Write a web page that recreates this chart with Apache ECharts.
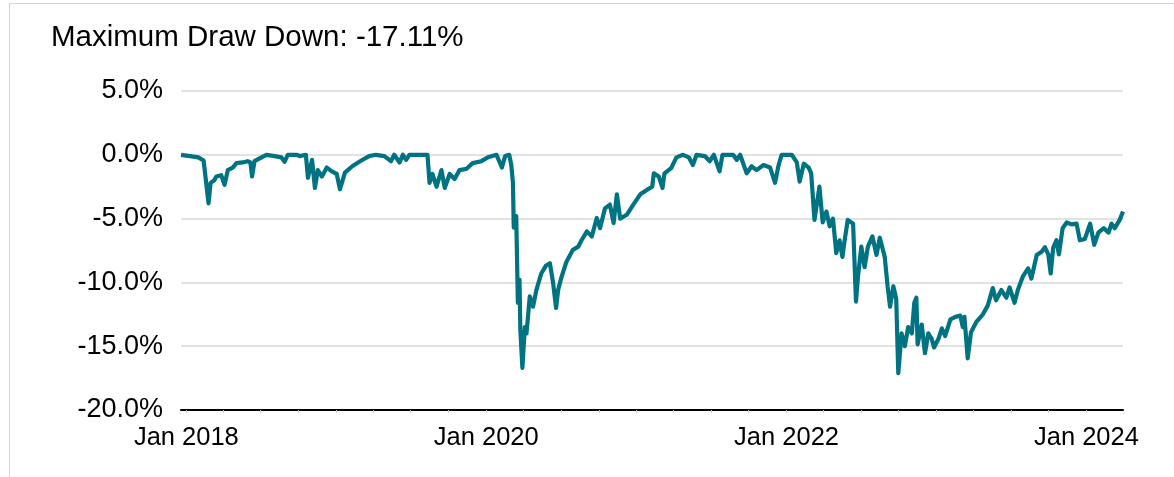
<!DOCTYPE html>
<html>
<head>
<meta charset="utf-8">
<script src="https://cdn.jsdelivr.net/npm/echarts@6/dist/echarts.min.js"></script>
<style>
  html, body { margin: 0; padding: 0; background: #fff; }
  #frame { position: absolute; left: 9px; top: 3px; width: 1300px; height: 600px; border: 1px solid #d4d4d4; }
  #main { position: absolute; left: 0; top: 0; width: 1174px; height: 477px; }
</style>
</head>
<body>
<div id="frame"></div>
<div id="main"></div>
<script>
var title = 'Maximum Draw Down: -17.11%';

// dates of the drawdown readings
var dates = [
  '2017-12-19','2018-01-10','2018-01-30','2018-02-12','2018-02-16','2018-02-24','2018-03-01','2018-03-10',
  '2018-03-15','2018-03-27','2018-04-04','2018-04-12','2018-04-24','2018-05-03','2018-05-18','2018-05-30',
  '2018-06-06','2018-06-10','2018-06-16','2018-07-03','2018-07-15','2018-08-04','2018-08-20','2018-08-28',
  '2018-09-05','2018-09-26','2018-10-04','2018-10-19','2018-10-24','2018-11-03','2018-11-10','2018-11-17',
  '2018-11-27','2018-12-09','2018-12-21','2019-01-02','2019-01-10','2019-01-22','2019-02-09','2019-02-23',
  '2019-03-03','2019-03-22','2019-04-07','2019-04-28','2019-05-14','2019-05-22','2019-06-04','2019-06-12',
  '2019-06-20','2019-06-28','2019-07-22','2019-08-11','2019-08-16','2019-08-23','2019-09-02','2019-09-14',
  '2019-09-22','2019-10-04','2019-10-16','2019-10-28','2019-11-14','2019-11-29','2019-12-20','2020-01-05',
  '2020-01-26','2020-02-08','2020-02-16','2020-02-26','2020-03-02','2020-03-06','2020-03-08','2020-03-14',
  '2020-03-18','2020-03-22','2020-03-24','2020-03-29','2020-04-04','2020-04-08','2020-04-16','2020-04-24',
  '2020-05-02','2020-05-14','2020-05-25','2020-06-04','2020-06-12','2020-06-19','2020-06-24','2020-07-02',
  '2020-07-14','2020-07-30','2020-08-12','2020-08-20','2020-09-02','2020-09-14','2020-09-26','2020-10-04',
  '2020-10-16','2020-10-28','2020-11-06','2020-11-14','2020-11-22','2020-12-08','2020-12-24','2021-01-10',
  '2021-01-26','2021-02-08','2021-02-12','2021-02-24','2021-03-05','2021-03-10','2021-03-26','2021-04-08',
  '2021-04-24','2021-05-08','2021-05-18','2021-05-27','2021-06-16','2021-06-28','2021-07-08','2021-07-22',
  '2021-07-29','2021-08-24','2021-09-02','2021-09-10','2021-09-26','2021-10-08','2021-10-20','2021-11-06',
  '2021-11-22','2021-12-04','2021-12-12','2021-12-20','2022-01-14','2022-01-26','2022-02-02','2022-02-12',
  '2022-02-24','2022-03-02','2022-03-10','2022-03-22','2022-03-30','2022-04-08','2022-04-16','2022-04-24',
  '2022-05-02','2022-05-10','2022-05-17','2022-05-22','2022-05-30','2022-06-12','2022-06-19','2022-06-24',
  '2022-07-02','2022-07-10','2022-07-18','2022-07-29','2022-08-08','2022-08-16','2022-08-28','2022-09-04',
  '2022-09-10','2022-09-18','2022-09-25','2022-09-30','2022-10-08','2022-10-16','2022-10-24','2022-11-02',
  '2022-11-08','2022-11-13','2022-11-16','2022-11-26','2022-12-04','2022-12-12','2022-12-20','2022-12-26',
  '2023-01-06','2023-01-14','2023-01-22','2023-02-04','2023-02-16','2023-02-28','2023-03-06','2023-03-10',
  '2023-03-18','2023-03-26','2023-04-08','2023-04-24','2023-05-06','2023-05-18','2023-05-26','2023-06-08',
  '2023-06-20','2023-06-28','2023-07-10','2023-07-18','2023-07-30','2023-08-12','2023-08-20','2023-09-02',
  '2023-09-14','2023-09-22','2023-09-30','2023-10-06','2023-10-12','2023-10-20','2023-10-26','2023-11-04',
  '2023-11-14','2023-11-26','2023-12-08','2023-12-16','2023-12-28','2024-01-10','2024-01-20','2024-01-30',
  '2024-02-12','2024-02-24','2024-03-02','2024-03-10','2024-03-22','2024-03-30'
];

// drawdown in percent
var drawdown = [
  0.0, -0.1, -0.2, -0.45, -0.5, -3.8, -2.2, -2.0,
  -1.7, -1.6, -2.35, -1.2, -1.0, -0.65, -0.6, -0.5,
  -0.6, -1.7, -0.5, -0.2, 0.0, -0.1, -0.2, -0.55,
  0.0, 0.0, -0.1, 0.0, -1.8, -0.4, -2.6, -1.2,
  -1.7, -1.0, -1.3, -1.5, -2.7, -1.4, -0.9, -0.6,
  -0.45, -0.1, 0.0, -0.1, -0.5, 0.0, -0.6, 0.0,
  -0.4, 0.0, 0.0, 0.0, -2.2, -1.5, -2.5, -1.2,
  -2.6, -1.5, -1.9, -1.2, -1.1, -0.65, -0.5, -0.2,
  0.0, -1.0, -0.1, 0.0, -0.8, -2.2, -5.7, -4.8,
  -11.6, -9.8, -13.7, -16.7, -13.5, -14.0, -11.1, -11.9,
  -10.6, -9.3, -8.7, -8.5, -10.1, -12.0, -10.6, -9.6,
  -8.4, -7.45, -7.2, -6.7, -6.0, -6.4, -4.95, -5.75,
  -4.2, -3.9, -5.35, -3.1, -5.0, -4.7, -3.9, -3.1,
  -2.75, -2.5, -1.45, -1.7, -2.6, -1.45, -1.05, -0.2,
  0.0, -0.2, -0.8, 0.0, -0.1, -0.5, 0.0, -1.3,
  0.0, 0.0, -0.4, 0.0, -1.45, -0.9, -1.2, -0.8,
  -1.0, -2.2, -0.9, 0.0, 0.0, -0.6, -2.1, -0.7,
  -1.0, -1.45, -5.1, -2.5, -5.3, -4.45, -5.6, -5.0,
  -7.7, -6.7, -8.0, -6.8, -5.1, -5.4, -11.5, -9.5,
  -7.2, -8.8, -7.2, -6.4, -7.85, -6.5, -8.0, -10.3,
  -11.9, -10.3, -11.3, -17.11, -14.0, -15.0, -13.5, -14.0,
  -11.6, -11.2, -14.85, -13.3, -15.55, -14.0, -14.4, -15.1,
  -14.4, -13.6, -14.2, -12.9, -12.7, -12.6, -13.5, -12.7,
  -15.95, -13.9, -13.1, -12.5, -11.8, -10.45, -11.4, -10.6,
  -11.2, -10.4, -11.6, -10.6, -9.55, -8.9, -9.7, -7.85,
  -7.6, -7.25, -7.8, -9.3, -7.3, -6.7, -7.8, -5.75,
  -5.3, -5.45, -5.4, -6.7, -6.6, -5.4, -7.05, -6.1,
  -5.75, -6.1, -5.4, -5.75, -5.1, -4.45
];

// x axis label years and quarter tick months
var labelYears = [2018, 2020, 2022, 2024];
var tickYears = [2018, 2019, 2020, 2021, 2022, 2023, 2024];
var tickMonths = [0, 3, 6, 9];
var startDate = '2017-12-19';
var endDate = '2024-03-30';

var seriesData = [];
for (var i = 0; i < dates.length; i++) {
  seriesData.push([Date.parse(dates[i]), drawdown[i]]);
}

var xMin = Date.parse(startDate);
var xMax = Date.parse(endDate);
var labelValues = labelYears.map(function (y) { return Date.UTC(y, 0, 1); });
var tickValues = [];
tickYears.forEach(function (y) {
  tickMonths.forEach(function (m) {
    var t = Date.UTC(y, m, 1);
    if (t <= xMax) tickValues.push(t);
  });
});

var font = "'Liberation Sans', Arial, sans-serif";
var chart = echarts.init(document.getElementById('main'));

var option = {
  animation: false,
  title: {
    text: title,
    left: 46,
    top: 18,
    textStyle: { fontFamily: font, fontSize: 29.5, fontWeight: 'normal', color: '#000' }
  },
  grid: { left: 181, right: 51, top: 91, bottom: 67 },
  xAxis: {
    type: 'value',
    min: xMin,
    max: xMax,
    axisLine: { show: true, onZero: false, lineStyle: { color: '#000', width: 2 } },
    axisTick: { show: true, customValues: tickValues, length: 3, lineStyle: { color: '#c8c8c8', width: 1 } },
    axisLabel: {
      customValues: labelValues,
      margin: 15,
      fontFamily: font,
      fontSize: 25.5,
      color: '#000',
      formatter: function (v) { return 'Jan ' + new Date(v).getUTCFullYear(); }
    },
    splitLine: { show: false }
  },
  yAxis: {
    type: 'value',
    min: -20,
    max: 5,
    interval: 5,
    axisLine: { show: false },
    axisTick: { show: false },
    axisLabel: {
      margin: 18,
      fontFamily: font,
      fontSize: 27,
      color: '#000',
      formatter: function (v) { return v.toFixed(1) + '%'; }
    },
    splitLine: { lineStyle: { color: '#d9d9d9', width: 1.5 } }
  },
  series: [
    {
      name: 'Drawdown',
      type: 'line',
      data: seriesData,
      showSymbol: false,
      lineStyle: { color: '#007382', width: 4.2, join: 'round' },
      itemStyle: { color: '#007382' }
    }
  ]
};
chart.setOption(option);
</script>
</body>
</html>
